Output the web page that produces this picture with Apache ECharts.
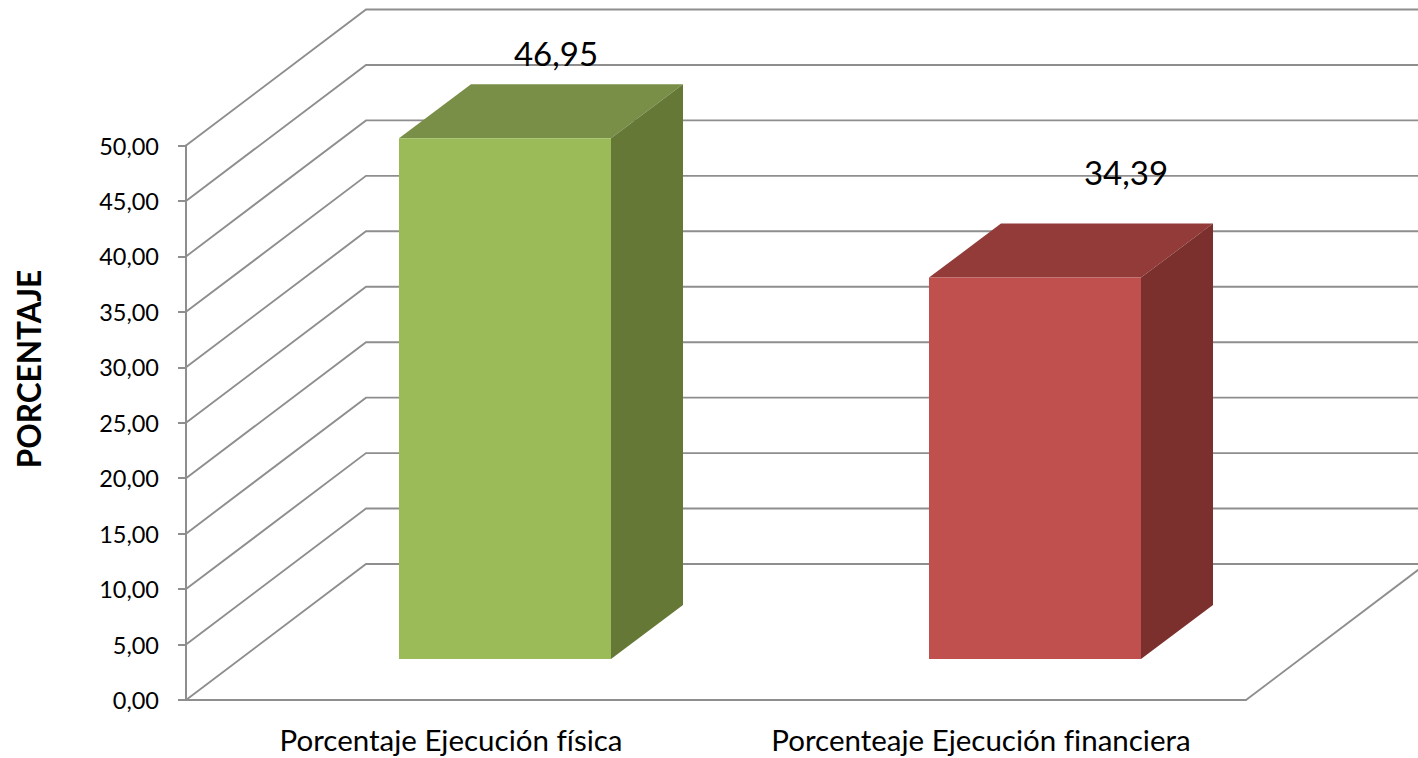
<!DOCTYPE html>
<html>
<head>
<meta charset="utf-8">
<script src="https://cdn.jsdelivr.net/npm/echarts@6/dist/echarts.min.js"></script>
<style>html,body{margin:0;padding:0;background:#fff}#c{width:1418px;height:758px}#c text{font-variant-ligatures:none}</style>
</head>
<body>
<div id="c"></div>
<script>
const categories = ['Porcentaje Ejecución física', 'Porcenteaje Ejecución financiera'];
const values = [46.95, 34.39];
const valueLabels = ['46,95', '34,39'];
const ticks = [0, 5, 10, 15, 20, 25, 30, 35, 40, 45, 50];
const axisTitle = 'PORCENTAJE';

const FONT = 'Lato, "Open Sans", sans-serif';
const LINE = '#8e8e8e';
const WALL = [180, -136];
const BAR_SHIFT = [54, -41];
const BAR_DEPTH = [72, -54];
const BAR_RATIO = 0.4;
const FACES = [
  { front: '#9BBB59', top: '#798F47', side: '#657836' },
  { front: '#C0504D', top: '#923B39', side: '#7B302E' }
];
const LABEL_SHIFT = [[51, -85.5], [91, -105.5]];

function renderFrame(params, api) {
  const v = api.value(1);
  const p = api.coord([0, v]);
  const cs = params.coordSys;
  const x0 = cs.x, y = p[1];
  const end = cs.x + cs.width + WALL[0];
  const children = [{
    type: 'polyline',
    shape: { points: [[x0, y], [x0 + WALL[0], y + WALL[1]], [end, y + WALL[1]]] },
    style: { fill: null, stroke: LINE, lineWidth: 1.9 }
  }];
  if (v === 0) {
    children.push({
      type: 'line',
      shape: { x1: cs.x + cs.width, y1: y, x2: end, y2: y + WALL[1] },
      style: { stroke: LINE, lineWidth: 1.9 }
    });
  }
  return { type: 'group', children };
}

function renderBar(params, api) {
  const i = api.value(0);
  const top = api.coord([i, api.value(1)]);
  const base = api.coord([i, 0]);
  const w = api.size([1, 0])[0] * BAR_RATIO;
  const l = top[0] - w / 2 + BAR_SHIFT[0], r = l + w;
  const t = top[1] + BAR_SHIFT[1], b = base[1] + BAR_SHIFT[1];
  const dx = BAR_DEPTH[0], dy = BAR_DEPTH[1];
  const c = FACES[i];
  return {
    type: 'group',
    children: [
      { type: 'polygon', shape: { points: [[l, t], [r, t], [r + dx, t + dy], [l + dx, t + dy]] }, style: { fill: c.top } },
      { type: 'polygon', shape: { points: [[r, t], [r + dx, t + dy], [r + dx, b + dy], [r, b]] }, style: { fill: c.side } },
      { type: 'rect', shape: { x: l, y: t, width: w, height: b - t }, style: { fill: c.front } },
      {
        type: 'text',
        style: {
          x: top[0] + BAR_SHIFT[0] + LABEL_SHIFT[i][0],
          y: top[1] + BAR_SHIFT[1] + LABEL_SHIFT[i][1],
          text: valueLabels[i],
          font: '33px ' + FONT,
          fill: '#000',
          align: 'center',
          verticalAlign: 'middle'
        }
      }
    ]
  };
}

const chart = echarts.init(document.getElementById('c'), null, { renderer: 'svg' });
chart.setOption({
  animation: false,
  backgroundColor: '#fff',
  grid: { left: 186, right: 172, top: 145.5, bottom: 58 },
  xAxis: {
    type: 'category',
    data: categories,
    axisTick: { show: false },
    axisLine: { lineStyle: { color: LINE, width: 2 } },
    axisLabel: { color: '#000', fontFamily: FONT, fontSize: 29.5, margin: 24, interval: 0, hideOverlap: false }
  },
  yAxis: {
    type: 'value',
    min: 0,
    max: 50,
    interval: 5,
    splitLine: { show: false },
    axisLine: { show: true, lineStyle: { color: LINE, width: 2 } },
    axisTick: { show: true, length: 8, lineStyle: { color: LINE, width: 2 } },
    axisLabel: {
      color: '#000', fontFamily: FONT, fontSize: 23.5, margin: 27, padding: [3, 0, 0, 0],
      formatter: v => v.toFixed(2).replace('.', ',')
    }
  },
  graphic: [{
    type: 'text',
    x: 29, y: 369,
    rotation: Math.PI / 2,
    style: {
      text: axisTitle, font: 'bold 31.5px ' + FONT, fill: '#000',
      align: 'center', verticalAlign: 'middle'
    }
  }],
  series: [
    { type: 'custom', renderItem: renderFrame, data: ticks.map(v => [0, v]), encode: { x: 0, y: 1 }, silent: true, z: 1, clip: false },
    { type: 'custom', renderItem: renderBar, data: values.map((v, i) => [i, v]), encode: { x: 0, y: 1 }, silent: true, z: 3, clip: false }
  ]
});
</script>
</body>
</html>
